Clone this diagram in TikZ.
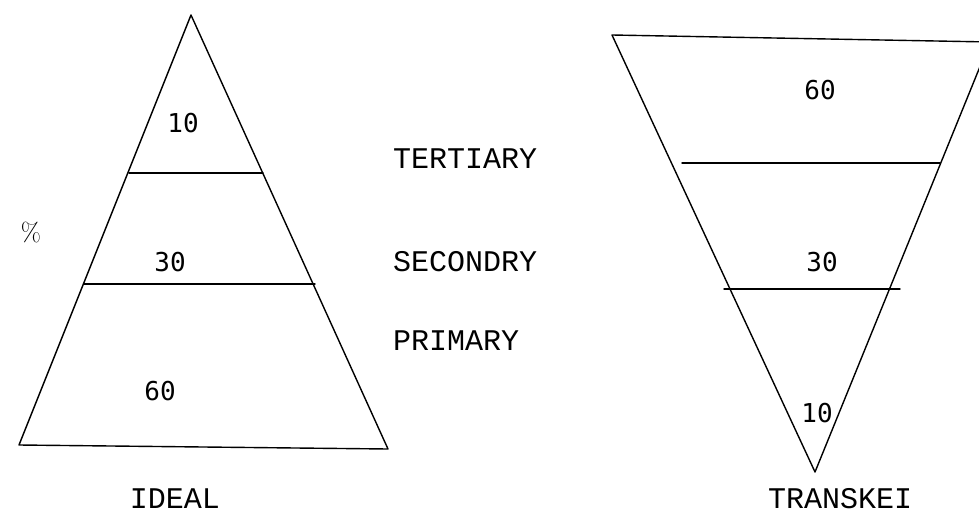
\documentclass[tikz,border=0pt]{standalone}
\usepackage{fontspec}
\setmonofont{Liberation Mono}
\newfontfamily\digitfont{DejaVu Sans Mono}
\begin{document}
\begin{tikzpicture}[x=1pt,y=-1pt,
  edge/.style={line width=1.4pt,line join=round,line cap=round},
  word/.style={font=\ttfamily\fontsize{30}{30}\selectfont,inner sep=0pt,anchor=west},
  num/.style={font=\digitfont\fontsize{26}{26}\selectfont,inner sep=0pt},
  captext/.style={font=\ttfamily\fontsize{30}{30}\selectfont,inner sep=0pt}]
\useasboundingbox (0,0) rectangle (979,516);
% left pyramid
\coordinate (LA) at (191,15);
\coordinate (LL) at (19,445);
\coordinate (LR) at (388,449);
\draw[edge] (LA) -- (LL) -- (LR) -- cycle;
\draw[edge] (129,173) -- (263,173);
\draw[edge] (84,284) -- (315,284);
\node[num] (l10) at (183,123) {10};
\node[num] (l30) at (170,262) {30};
\node[num] (l60) at (160,391) {60};
\node[font=\fontsize{26}{26}\selectfont,inner sep=0pt] (pct) at (31,232) {\%};
\node[captext] (ideal) at (175,499) {IDEAL};
% labels
\node[word] (tert) at (393,159) {TERTIARY};
\node[word] (sec) at (393,262) {SECONDRY};
\node[word] (prim) at (393,341) {PRIMARY};
% right inverted pyramid
\coordinate (RL) at (612,35);
\coordinate (RR) at (990,42);
\coordinate (RA) at (815,472);
\begin{scope}
\clip (0,0) rectangle (979,516);
\draw[edge] (RL) -- (RR) -- (RA) -- cycle;
\end{scope}
\draw[edge] (682,163) -- (940,163);
\draw[edge] (724,289) -- (900,289);
\node[num] (r60) at (820,90) {60};
\node[num] (r30) at (822,262) {30};
\node[num] (r10) at (817,413) {10};
\node[captext] (transkei) at (840,499) {TRANSKEI};
\end{tikzpicture}
\end{document}
